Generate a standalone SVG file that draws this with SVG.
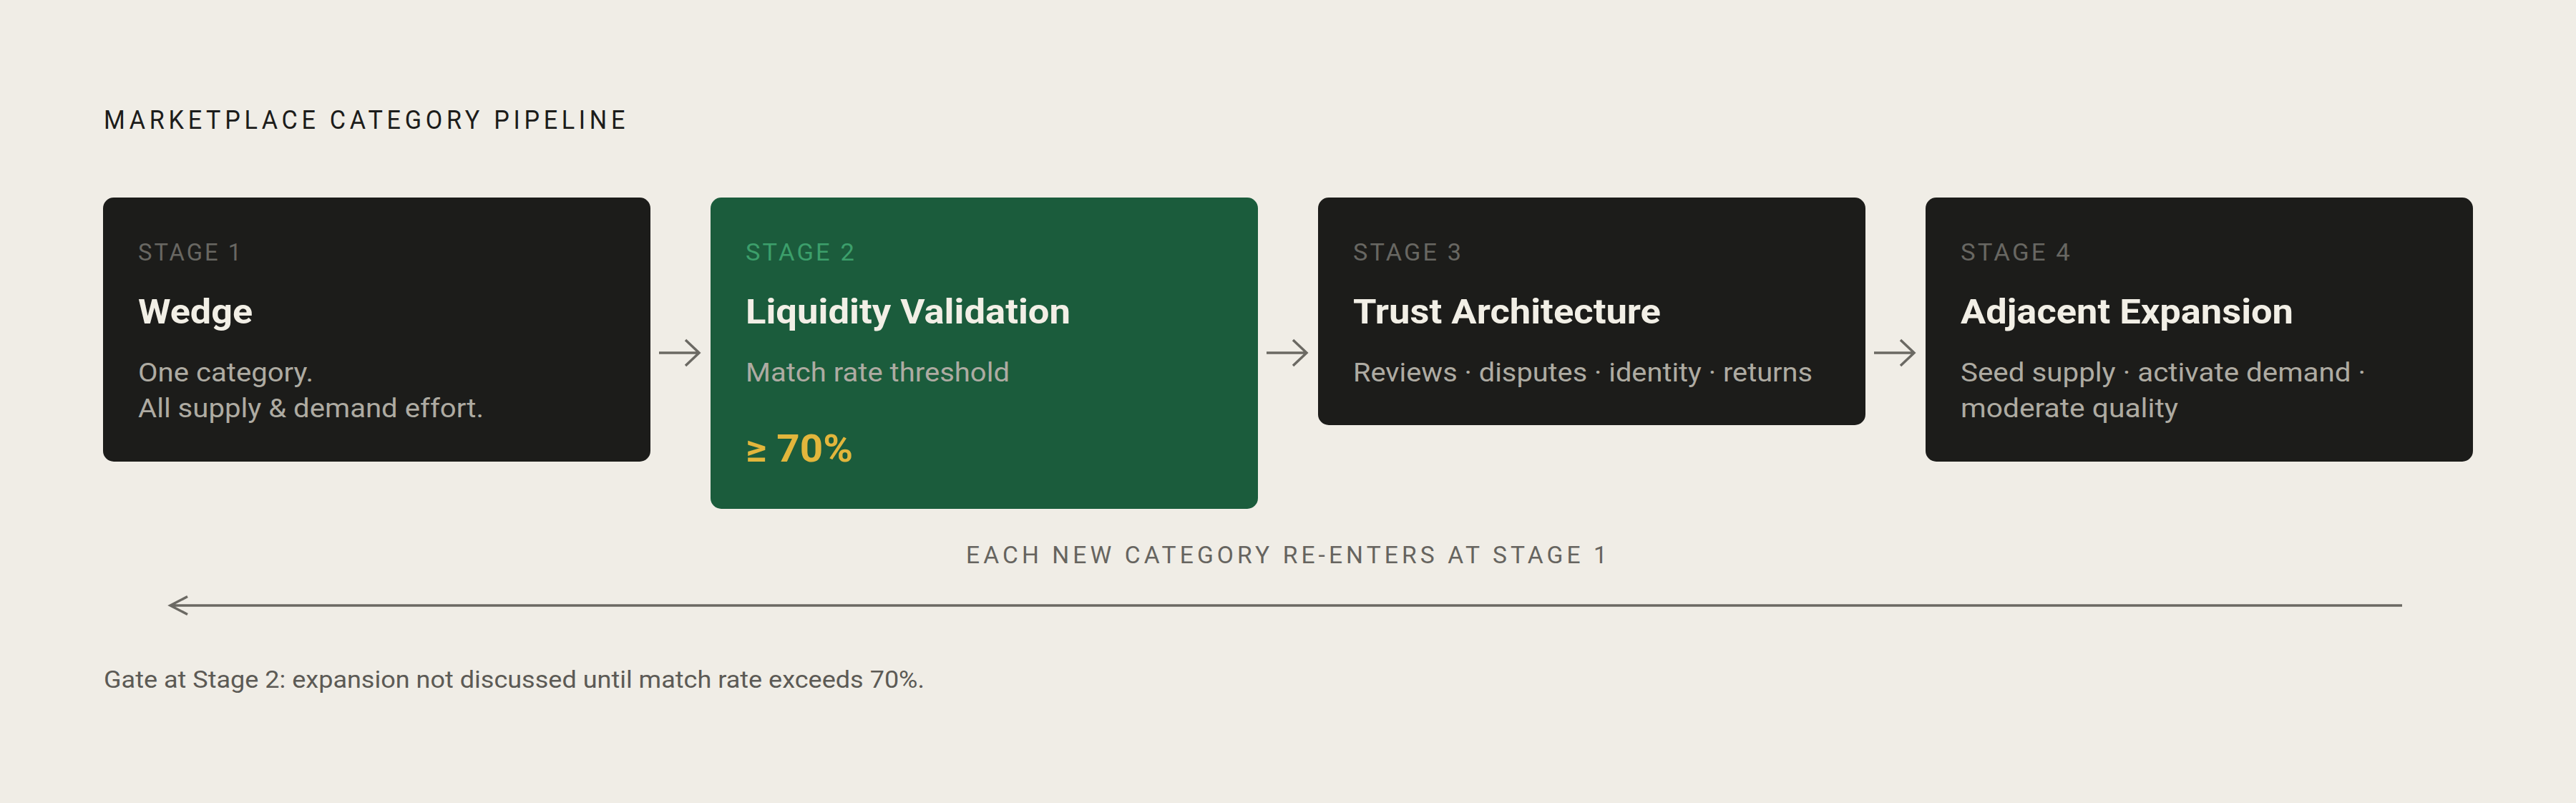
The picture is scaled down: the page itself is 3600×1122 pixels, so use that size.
<svg xmlns="http://www.w3.org/2000/svg" width="3600" height="1122" viewBox="0 0 3600 1122">
  <defs>
    <style>
      text { font-family: Roboto, "Liberation Sans", "Noto Sans", sans-serif; }
      .card { fill: #1c1c1a; }
      .card-green { fill: #1b5c3c; }
      .label { font-size: 33px; fill: #686762; letter-spacing: 3px; }
      .label-green { fill: #3c9f6b; }
      .title { font-size: 48px; font-weight: 700; fill: #f2efe6; }
      .desc { font-size: 36px; fill: #aeaba2; }
      .value { font-size: 54px; font-weight: 700; fill: #e2b63c; }
      .heading { font-size: 36px; fill: #1c1c1a; letter-spacing: 6px; }
      .loop-label { font-size: 33px; fill: #66645f; letter-spacing: 5px; }
      .footer { font-size: 34px; fill: #5c5a55; }
      .conn { fill: none; stroke: #6b6963; stroke-width: 3.5; stroke-linecap: butt; stroke-linejoin: miter; }
    </style>
  </defs>
  <rect x="0" y="0" width="3600" height="1122" fill="#f0ede6"/>

  <text id="heading" class="heading" x="145" y="180" textLength="734" lengthAdjust="spacingAndGlyphs">MARKETPLACE CATEGORY PIPELINE</text>

  <g id="stage1">
    <rect class="card" x="144" y="276" width="765" height="369" rx="15"/>
    <text class="label" x="193" y="364" textLength="147" lengthAdjust="spacingAndGlyphs">STAGE 1</text>
    <text class="title" x="193" y="452" textLength="160" lengthAdjust="spacingAndGlyphs">Wedge</text>
    <text class="desc" x="193" y="533" textLength="245" lengthAdjust="spacingAndGlyphs">One category.</text>
    <text class="desc" x="193" y="583" textLength="483" lengthAdjust="spacingAndGlyphs">All supply &amp; demand effort.</text>
  </g>

  <g id="stage2">
    <rect class="card-green" x="993" y="276" width="765" height="435" rx="15"/>
    <text class="label label-green" x="1042" y="364" textLength="155" lengthAdjust="spacingAndGlyphs">STAGE 2</text>
    <text class="title" x="1042" y="452" textLength="454" lengthAdjust="spacingAndGlyphs">Liquidity Validation</text>
    <text class="desc" x="1042" y="533" textLength="369" lengthAdjust="spacingAndGlyphs">Match rate threshold</text>
    <text class="value" x="1042" y="645" textLength="150" lengthAdjust="spacingAndGlyphs">≥ 70%</text>
  </g>

  <g id="stage3">
    <rect class="card" x="1842" y="276" width="765" height="318" rx="15"/>
    <text class="label" x="1891" y="364" textLength="154" lengthAdjust="spacingAndGlyphs">STAGE 3</text>
    <text class="title" x="1891" y="452" textLength="430" lengthAdjust="spacingAndGlyphs">Trust Architecture</text>
    <text class="desc" x="1891" y="533" textLength="642" lengthAdjust="spacingAndGlyphs">Reviews · disputes · identity · returns</text>
  </g>

  <g id="stage4">
    <rect class="card" x="2691" y="276" width="765" height="369" rx="15"/>
    <text class="label" x="2740" y="364" textLength="156" lengthAdjust="spacingAndGlyphs">STAGE 4</text>
    <text class="title" x="2740" y="452" textLength="465" lengthAdjust="spacingAndGlyphs">Adjacent Expansion</text>
    <text class="desc" x="2740" y="533" textLength="566" lengthAdjust="spacingAndGlyphs">Seed supply · activate demand ·</text>
    <text class="desc" x="2740" y="583" textLength="304" lengthAdjust="spacingAndGlyphs">moderate quality</text>
  </g>

  <g id="connectors">
    <path class="conn" d="M921 493 H977 M958 475 L977 493 L958 511"/>
    <path class="conn" d="M1770 493 H1826 M1807 475 L1826 493 L1807 511"/>
    <path class="conn" d="M2619 493 H2675 M2656 475 L2675 493 L2656 511"/>
    <path class="conn" d="M3357 846 H238 M262 833.5 L238 846 L262 858.5"/>
  </g>

  <text id="loop-label" class="loop-label" x="1350" y="787" textLength="901" lengthAdjust="spacingAndGlyphs">EACH NEW CATEGORY RE-ENTERS AT STAGE 1</text>

  <text id="footer" class="footer" x="145" y="961" textLength="1147" lengthAdjust="spacingAndGlyphs">Gate at Stage 2: expansion not discussed until match rate exceeds 70%.</text>
</svg>
